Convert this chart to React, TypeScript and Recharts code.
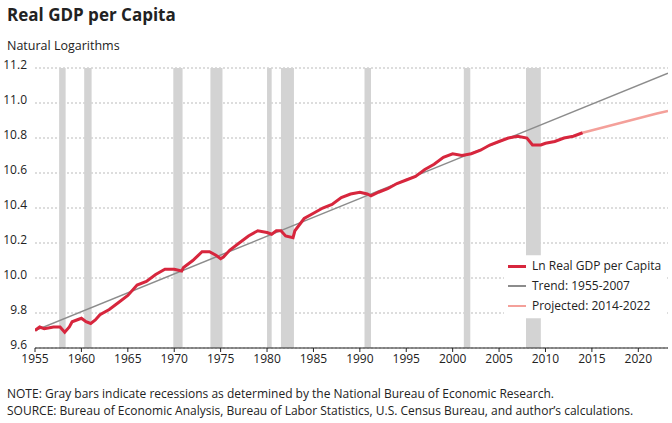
import React from "react";
import { LineChart, Line, XAxis, YAxis, CartesianGrid, ReferenceArea } from "recharts";

const gdpYears = [1955,1955.5,1956,1957,1957.7,1958.2,1958.7,1959,1959.5,1960,1960.5,1961,1961.5,1962,1963,1964,1965,1966,1967,1968,1969,1970,1970.8,1971,1972,1973,1973.8,1974.5,1975,1975.3,1976,1977,1978,1979,1980,1980.5,1981,1981.5,1982,1982.8,1983,1984,1985,1986,1987,1988,1989,1990,1990.8,1991.2,1992,1993,1994,1995,1996,1997,1998,1999,2000,2001,2002,2003,2004,2005,2006,2007,2008,2008.6,2009,2009.5,2010,2011,2012,2013,2014];
const gdpValues = [9.70,9.72,9.71,9.72,9.72,9.69,9.72,9.75,9.76,9.77,9.75,9.74,9.76,9.79,9.82,9.86,9.90,9.96,9.98,10.02,10.05,10.05,10.04,10.06,10.10,10.15,10.15,10.13,10.11,10.12,10.16,10.20,10.24,10.27,10.26,10.25,10.27,10.27,10.24,10.23,10.27,10.34,10.37,10.40,10.42,10.46,10.48,10.49,10.48,10.47,10.49,10.51,10.54,10.56,10.58,10.62,10.65,10.69,10.71,10.70,10.71,10.73,10.76,10.78,10.80,10.81,10.80,10.76,10.76,10.76,10.77,10.78,10.80,10.81,10.83];
const trendYears = [1955, 2023.2];
const trendValues = [9.70, 11.17];
const projYears = [2014, 2022, 2023.2];
const projValues = [10.83, 10.94, 10.955];
const recessions: [number, number][] = [[1957.6,1958.3],[1960.3,1961.1],[1969.9,1970.9],[1973.9,1975.2],[1980.0,1980.5],[1981.5,1982.9],[1990.5,1991.2],[2001.2,2001.9]];
const lastRecession: [number, number] = [2007.9, 2009.5];
const xTicks = [1955,1960,1965,1970,1975,1980,1985,1990,1995,2000,2005,2010,2015,2020];
const yTicks = [9.6,9.8,10.0,10.2,10.4,10.6,10.8,11.0,11.2];

const gdp = gdpYears.map((x, i) => ({ x, y: gdpValues[i] }));
const trend = trendYears.map((x, i) => ({ x, y: trendValues[i] }));
const proj = projYears.map((x, i) => ({ x, y: projValues[i] }));

const font = "'Open Sans', 'Noto Sans', sans-serif";

export default function App() {
  return (
    <div style={{ position: "absolute", left: 0, top: 0, width: 672, height: 423, background: "#fff", fontFamily: font, color: "#222" }}>
      <div style={{ position: "absolute", left: 7, top: 3, fontSize: 17, fontWeight: 700 }}>Real GDP per Capita</div>
      <div style={{ position: "absolute", left: 7, top: 37, fontSize: 12.5 }}>Natural Logarithms</div>
      <LineChart width={672} height={370} margin={{ top: 68, right: 4, bottom: 0, left: 0 }}>
        <CartesianGrid vertical={false} stroke="#bbb" strokeDasharray="2 2" />
        {recessions.map(([a, b], i) => (
          <ReferenceArea key={i} x1={a} x2={b} y1={9.6} y2={11.2} fill="#d3d3d3" fillOpacity={1} stroke="none" />
        ))}
        <ReferenceArea x1={lastRecession[0]} x2={lastRecession[1]} y1={10.13} y2={11.2} fill="#d3d3d3" fillOpacity={1} stroke="none" />
        <ReferenceArea x1={lastRecession[0]} x2={lastRecession[1]} y1={9.6} y2={9.77} fill="#d3d3d3" fillOpacity={1} stroke="none" />
        <XAxis dataKey="x" type="number" domain={[1955, 2023.2]} ticks={xTicks} allowDataOverflow
          tick={{ fill: "#222", fontSize: 12, fontFamily: font }} tickLine={{ stroke: "#222" }} axisLine={{ stroke: "#222" }} height={22} tickSize={4} />
        <YAxis type="number" domain={[9.6, 11.2]} ticks={yTicks} tickFormatter={(v) => v.toFixed(1)} width={35}
          tick={{ fill: "#222", fontSize: 12, fontFamily: font, dy: -3 }} axisLine={false} tickLine={false} allowDataOverflow />
        <Line data={trend} dataKey="y" stroke="#8c8c8c" strokeWidth={1.5} dot={false} isAnimationActive={false} />
        <Line data={proj} dataKey="y" stroke="#f4a09a" strokeWidth={2.5} dot={false} isAnimationActive={false} />
        <Line data={gdp} dataKey="y" stroke="#d7263d" strokeWidth={3} dot={false} isAnimationActive={false} />
      </LineChart>
      <div style={{ position: "absolute", left: 504, top: 256, fontSize: 12, lineHeight: "20px", background: "#fff", padding: "0 4px", whiteSpace: "nowrap" }}>
        {[["#d7263d", 3, "Ln Real GDP per Capita"], ["#8c8c8c", 1.5, "Trend: 1955-2007"], ["#f4a09a", 2.5, "Projected: 2014-2022"]].map(([c, w, t]) => (
          <div key={t as string} style={{ display: "flex", alignItems: "center" }}>
            <span style={{ display: "inline-block", width: 18, height: w as number, background: c as string, marginRight: 6 }} />
            {t}
          </div>
        ))}
      </div>
      <div style={{ position: "absolute", left: 7, top: 385, fontSize: 12, lineHeight: "17px" }}>
        <div>NOTE: Gray bars indicate recessions as determined by the National Bureau of Economic Research.</div>
        <div>SOURCE: Bureau of Economic Analysis, Bureau of Labor Statistics, U.S. Census Bureau, and author’s calculations.</div>
      </div>
    </div>
  );
}
